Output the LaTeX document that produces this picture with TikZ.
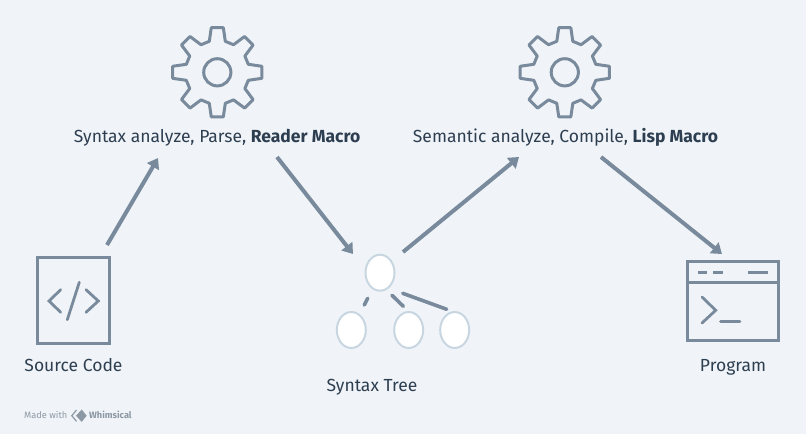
\documentclass[tikz,border=0pt]{standalone}
\usepackage{fontspec}
\setmainfont{Fira Sans}
\usetikzlibrary{arrows.meta,shapes.geometric}
\definecolor{bgc}{HTML}{F0F4F8}
\definecolor{linec}{HTML}{788A9B}
\definecolor{ringc}{HTML}{C8D6E1}
\definecolor{textc}{HTML}{2D3E50}
\definecolor{wmc}{HTML}{8C98A4}
\tikzset{
  x=1pt,y=-1pt,
  iconbox/.style={draw=linec,line width=3.2pt,line join=miter},
  iconline/.style={draw=linec,line width=2.8pt,line cap=round,line join=miter},
  gearline/.style={draw=linec,line width=3pt,line join=round},
  flow/.style={draw=linec,line width=4pt,-{Triangle[length=10pt,width=13.5pt]}},
  stub/.style={draw=linec,line width=3.6pt,line cap=round},
  treenode/.style={ellipse,draw=ringc,line width=2pt,fill=white,minimum width=29pt,minimum height=36pt,inner sep=0pt},
  lbl/.style={text=textc,font=\fontsize{17.5}{19}\selectfont,inner sep=0pt,anchor=base},
  wm/.style={text=wmc,font=\fontsize{9.2}{10}\selectfont,inner sep=0pt,anchor=base west}
}
\begin{document}
\begin{tikzpicture}
\fill[bgc] (0,0) rectangle (806,434);
\useasboundingbox (0,0) rectangle (806,434);
% gears
\foreach \cx in {217.3,564.8}{
  \begin{scope}[shift={(\cx,72.3)}]
    \draw[gearline]
      ({-14.5}:32)
      \foreach \a in {0,45,...,315}{
        -- ({\a-14.5}:32) -- ({\a-7.7}:45) -- ({\a+7.7}:45) -- ({\a+14.5}:32)
      } -- cycle;
    \draw[gearline] (0,0) circle (13.6);
  \end{scope}
}
% labels
\node[lbl] (t1) at (217,142) {Syntax analyze, Parse, \textbf{Reader Macro}};
\node[lbl] (t2) at (565.5,142) {Semantic analyze, Compile, \textbf{Lisp Macro}};
\node[lbl] (t3) at (73.5,371) {Source Code};
\node[lbl] (t4) at (372,391) {Syntax Tree};
\node[lbl] (t5) at (733,371) {Program};
% anchors of the connectors
\coordinate (a1s) at (107,245);
\coordinate (a1e) at (158,158);
\coordinate (a2s) at (277,157);
\coordinate (a2e) at (353,254);
\coordinate (a3s) at (403,252);
\coordinate (a3e) at (519,157);
\coordinate (a4s) at (601,157);
\coordinate (a4e) at (722,254);
\draw[flow] (a1s) -- (a1e);
\draw[flow] (a2s) -- (a2e);
\draw[flow] (a3s) -- (a3e);
\draw[flow] (a4s) -- (a4e);
% tree
\node[treenode] (n0) at (380,272.7) {};
\node[treenode] (n1) at (351.3,330) {};
\node[treenode] (n2) at (408.7,330) {};
\node[treenode] (n3) at (454.7,330) {};
\coordinate (s1a) at (367.7,298.3);
\coordinate (s1b) at (364.3,305);
\coordinate (s2a) at (392,295.3);
\coordinate (s2b) at (403.3,306.3);
\coordinate (s3a) at (402.7,293.3);
\coordinate (s3b) at (446.7,309.3);
\draw[stub] (s1a) -- (s1b);
\draw[stub] (s2a) -- (s2b);
\draw[stub] (s3a) -- (s3b);
% source code icon
\draw[iconbox] (37.3,257.3) rectangle (109.3,343.7);
\draw[iconline] (60.7,289.7) -- (49,301) -- (60.7,312.3);
\draw[iconline] (86,289.7) -- (98.3,301) -- (86,312.3);
\draw[iconline] (79.3,282.3) -- (67.3,319.7);
% program icon
\draw[iconbox] (687.3,261.7) rectangle (778.3,340.3);
\draw[iconbox] (687.3,282.7) -- (778.3,282.7);
\draw[draw=linec,line width=3pt] (698.3,272.3) -- (707.3,272.3);
\draw[draw=linec,line width=3pt] (713.3,272.3) -- (722.7,272.3);
\draw[draw=linec,line width=3pt] (748,272.3) -- (767.7,272.3);
\draw[iconline] (702,297) -- (715.7,310.3) -- (702,323);
\draw[iconline] (720.5,321.7) -- (740,321.7);
% watermark
\node[wm] (w1) at (24,418.5) {Made with};
\node[wm] (w2) at (89,418.5) {\textbf{Whimsical}};
\draw[wmc,line width=1.2pt] (76.5,410) -- (71.8,415.7) -- (76.5,421.4);
\fill[wmc] (81.7,409.5) -- (86.7,415.7) -- (81.7,421.9) -- (76,415.7) -- cycle;
\end{tikzpicture}
\end{document}
